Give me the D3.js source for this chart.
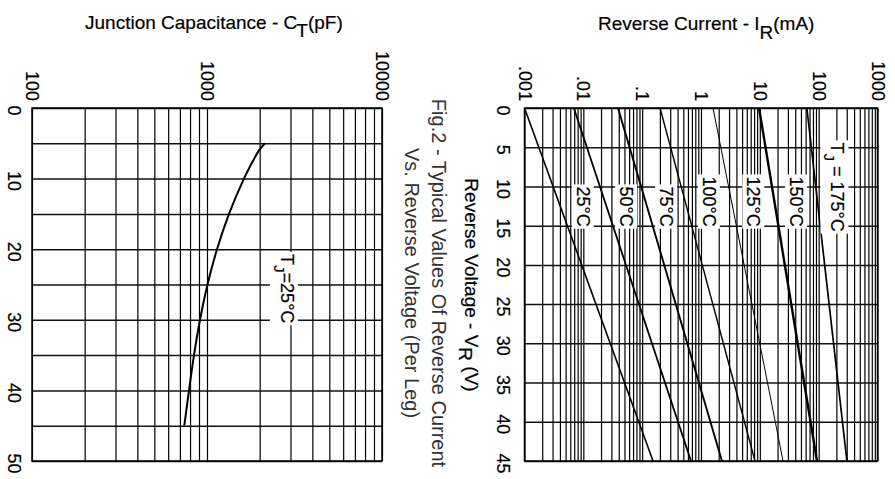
<!DOCTYPE html>
<html>
<head>
<meta charset="utf-8">
<script src="https://cdnjs.cloudflare.com/ajax/libs/d3/7.8.5/d3.min.js"></script>
<style>
  body { margin: 0; background: #fff; }
  svg { display: block; font-family: 'Liberation Sans', Arial, sans-serif; }
  .vgrid line { stroke: #000; stroke-width: 1.2px; }
  .hgrid line { stroke: #111; stroke-width: 1.5px; }
  .frame { fill: none; stroke: #000; stroke-width: 1.5px; }
  .heavy { stroke: #000; stroke-width: 0.2px; }
</style>
</head>
<body>
<svg id="chart" width="895" height="479"></svg>
<script>

// junction capacitance (pF) vs reverse voltage, Tj = 25C
const capVolts  = [5, 6, 7.5, 10, 15, 20, 25, 30, 35, 40, 45];
const capValues = [2145, 1983, 1832, 1627, 1336, 1141, 1007, 912, 843, 789, 742];

// reverse current (mA) at 0 V and 45 V, straight lines on log paper
const irVolts = [0, 45];
const irTemps = ["25°C", "50°C", "75°C", "100°C", "125°C", "150°C", "175°C"];
const ir25  = [0.001, 0.153];
const ir50  = [0.0069, 0.676];
const ir75  = [0.0388, 2.27];
const ir100 = [0.201, 8.28];
const ir125 = [1.6, 24.8];
const ir150 = [9.7, 93.7];
const ir175 = [63, 302];
const irSeries = [ir25, ir50, ir75, ir100, ir125, ir150, ir175];
const irWidths = [1.6, 1.8, 1.9, 1.4, 1.0, 2.4, 1.7];

// tick labels
const capTicks = [100, 1000, 10000];
const capTickLabels = ["100", "1000", "10000"];
const capVTicks = [0, 10, 20, 30, 40, 50];
const irTicks = [0.001, 0.01, 0.1, 1, 10, 100, 1000];
const irTickLabels = [".001", ".01", ".1", "1", "10", "100", "1000"];
const irVTicks = [0, 5, 10, 15, 20, 25, 30, 35, 40, 45];

const svg = d3.select("#chart");

// scales (page is drawn turned a quarter: voltage runs down, log value runs right)
const xC = d3.scaleLog().domain([100, 10000]).range([32, 382]);
const yC = d3.scaleLinear().domain([0, 50]).range([108, 461]);
const xI = d3.scaleLog().domain([0.001, 1000]).range([524.5, 877.5]);
const yI = d3.scaleLinear().domain([0, 45]).range([108, 461]);

function drawGrid(xs, ys, vStep) {
  const top = ys.range()[0], h = ys.range()[1] - ys.range()[0];
  const left = xs.range()[0], w = xs.range()[1] - xs.range()[0];
  svg.append("g").attr("class", "vgrid")
    .attr("transform", `translate(0,${top})`)
    .call(d3.axisTop(xs).tickValues(xs.ticks()).tickSize(-h).tickFormat(""))
    .call(g => g.select(".domain").remove());
  svg.append("g").attr("class", "hgrid")
    .attr("transform", `translate(${left},0)`)
    .call(d3.axisLeft(ys).tickValues(d3.range(ys.domain()[0], ys.domain()[1] + 0.1, vStep)).tickSize(-w).tickFormat(""))
    .call(g => g.select(".domain").remove());
  svg.append("rect").attr("class", "frame")
    .attr("x", left).attr("y", top).attr("width", w).attr("height", h);
}

function drawTickLabels(xs, ys, logTicks, logLabels, vTicks, vOffset) {
  const top = ys.range()[0], left = xs.range()[0];
  svg.append("g")
    .attr("transform", `translate(0,${top})`)
    .call(d3.axisTop(xs).tickValues(logTicks).tickFormat((d, i) => logLabels[i]).tickSize(0))
    .attr("font-size", 18).attr("font-family", null)
    .call(g => g.select(".domain").remove())
    .selectAll("text")
      .attr("class", "heavy")
      .attr("y", null).attr("dy", null)
      .attr("text-anchor", "end")
      .attr("transform", "translate(-6.5,-7) rotate(90)");
  svg.append("g")
    .attr("transform", `translate(${left},0)`)
    .call(d3.axisLeft(ys).tickValues(vTicks).tickSize(0))
    .attr("font-size", 18).attr("font-family", null)
    .call(g => g.select(".domain").remove())
    .selectAll("text")
      .attr("class", "heavy")
      .attr("x", null).attr("dy", null)
      .attr("text-anchor", "middle")
      .attr("transform", `translate(${vOffset},2) rotate(90)`);
}

drawGrid(xC, yC, 5);
drawGrid(xI, yI, 5);
drawTickLabels(xC, yC, capTicks, capTickLabels, capVTicks, -24.5);
drawTickLabels(xI, yI, irTicks, irTickLabels, irVTicks, -27.5);

// capacitance curve
const capLine = d3.line()
  .x((d, i) => xC(capValues[i]))
  .y(d => yC(d))
  .curve(d3.curveCatmullRom);
svg.append("path")
  .attr("d", capLine(capVolts))
  .attr("fill", "none").attr("stroke", "#000").attr("stroke-width", 2);

// reverse current lines
irSeries.forEach((s, i) => {
  svg.append("path")
    .attr("d", d3.line().x(d => xI(d)).y((d, j) => yI(irVolts[j]))(s))
    .attr("fill", "none").attr("stroke", "#000").attr("stroke-width", irWidths[i]);
});

// rotated label with white box; parts = [[text, dy, size]]
function boxedLabel(x, yEnd, parts, size) {
  const g = svg.append("g").attr("transform", `translate(${x},${yEnd}) rotate(90)`);
  const t = g.append("text").attr("class", "heavy").attr("text-anchor", "end").attr("font-size", size);
  parts.forEach(p => t.append("tspan").attr("dy", p[1]).attr("font-size", p[2] || size).text(p[0]));
  const b = t.node().getBBox();
  g.insert("rect", "text")
    .attr("x", b.x - 2).attr("y", b.y - 1)
    .attr("width", b.width + 4).attr("height", b.height + 2)
    .attr("fill", "#fff");
  return g;
}

// temperature labels sit between neighbouring lines at 12.5 V
const vLab = 12.5;
function irAt(s, v) {
  const a = Math.log10(s[0]), b = Math.log10(s[1]);
  return Math.pow(10, a + (b - a) * (v - irVolts[0]) / (irVolts[1] - irVolts[0]));
}
irTemps.forEach((t, i) => {
  const xa = xI(irAt(irSeries[i], vLab));
  let xm;
  if (i < irSeries.length - 1) xm = (xa + xI(irAt(irSeries[i + 1], vLab))) / 2;
  else xm = xa + (xa - xI(irAt(irSeries[i - 1], vLab))) / 2;
  if (i < irSeries.length - 1) {
    boxedLabel(xm - 6.5, yI(15) + 1, [[t, 0]], 18);
  } else {
    boxedLabel(xm - 8, yI(15) + 6, [["T", 0], ["J", 7, 15], [" = " + t, -7]], 18);
  }
});

boxedLabel(xC(2900) - 7, yC(30.5), [["T", 0], ["J", 7, 15], ["=25°C", -7]], 18);

// horizontal axis titles
const t1 = svg.append("text").attr("class", "heavy").attr("x", 85).attr("y", 29).attr("font-size", 19);
t1.append("tspan").text("Junction Capacitance - C");
t1.append("tspan").attr("dy", 8).attr("dx", -1).text("T");
t1.append("tspan").attr("dy", -8).text("(pF)");

const t2 = svg.append("text").attr("class", "heavy").attr("x", 598).attr("y", 30).attr("font-size", 19);
t2.append("tspan").text("Reverse Current - I");
t2.append("tspan").attr("dy", 9).text("R");
t2.append("tspan").attr("dy", -9).text("(mA)");

// rotated voltage title
const t3 = svg.append("text").attr("class", "heavy").attr("transform", "translate(465,285) rotate(90)")
  .attr("text-anchor", "middle").attr("font-size", 19);
t3.append("tspan").text("Reverse Voltage - V");
t3.append("tspan").attr("dy", 6).text("R");
t3.append("tspan").attr("dy", -6).text(" (V)");

// figure caption
svg.append("text").attr("transform", "translate(432,283) rotate(90)")
  .attr("text-anchor", "middle").attr("font-size", 20).attr("fill", "#333")
  .text("Fig.2 - Typical Values Of Reverse Current");
svg.append("text").attr("transform", "translate(405,283) rotate(90)")
  .attr("text-anchor", "middle").attr("font-size", 20).attr("fill", "#333")
  .text("Vs. Reverse Voltage (Per Leg)");

</script>
</body>
</html>
